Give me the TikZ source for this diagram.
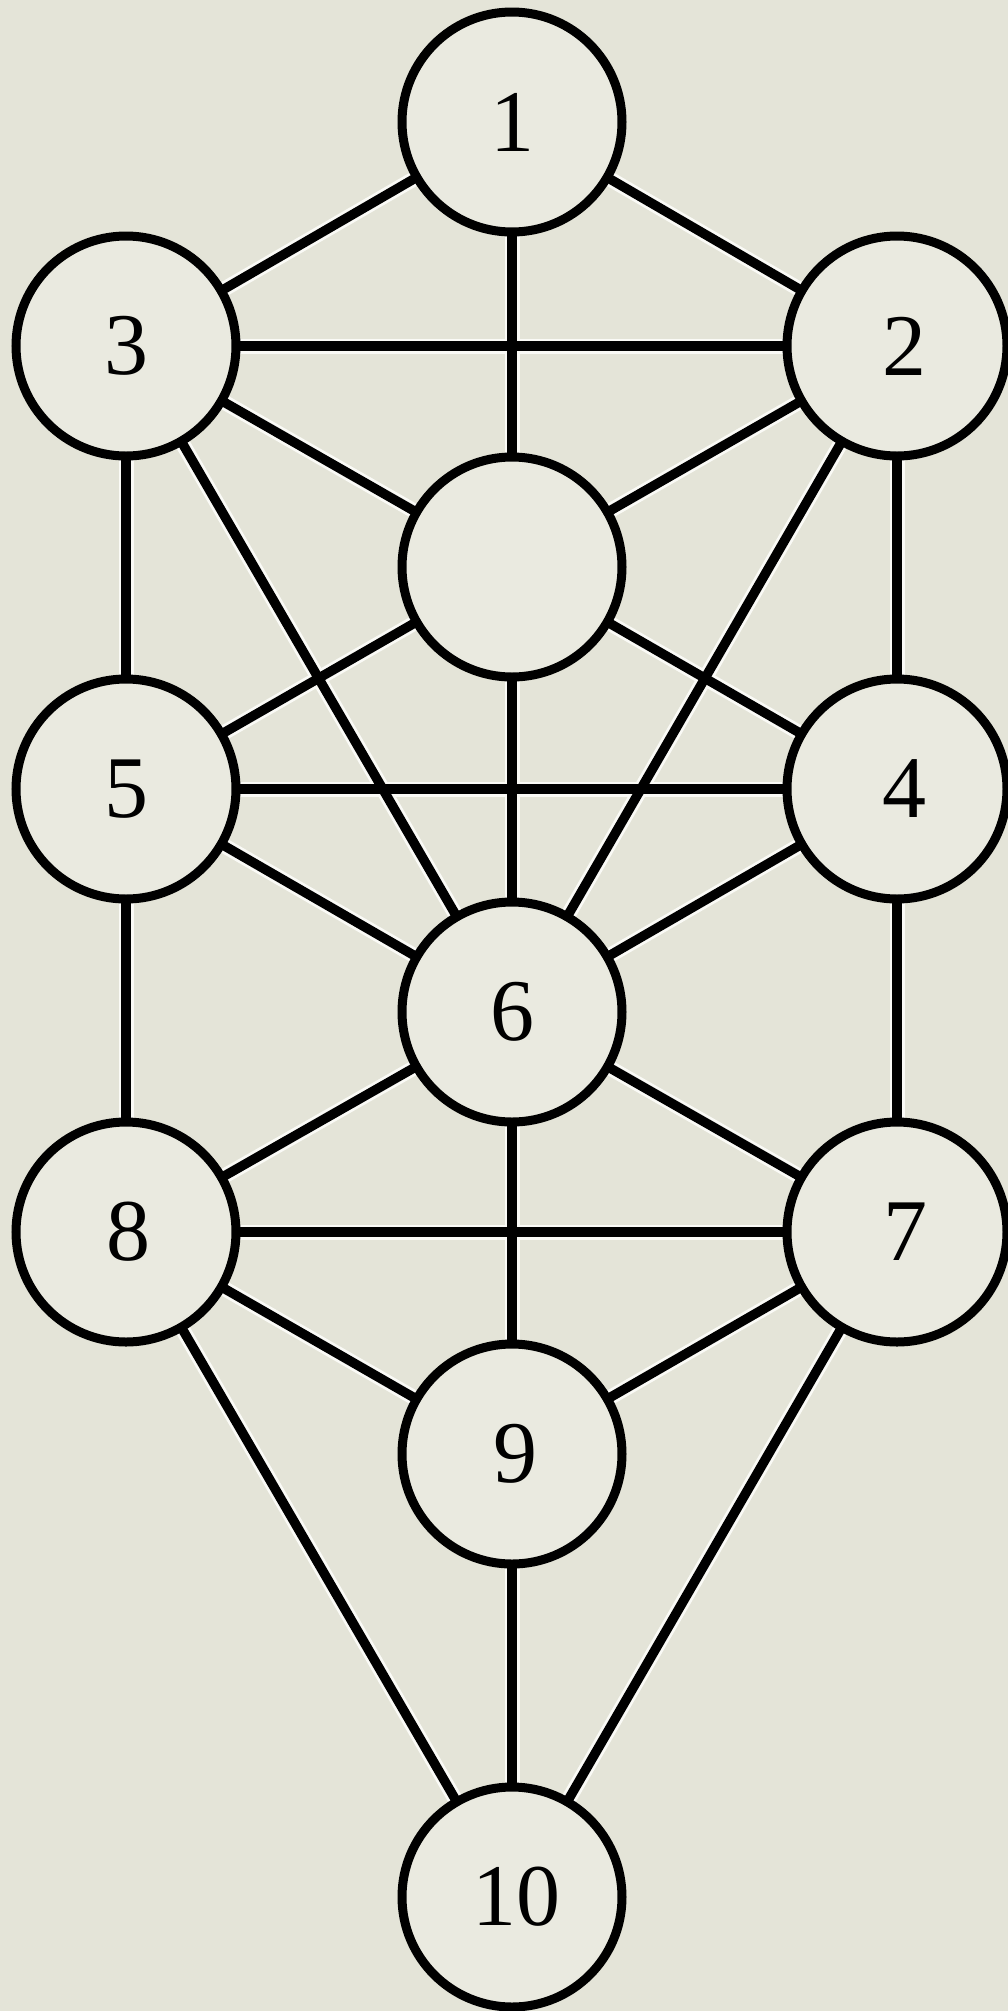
\documentclass[tikz,border=0pt]{standalone}
\usepackage{fontspec}
\setmainfont{Liberation Serif}
\usetikzlibrary{backgrounds}
\definecolor{paper}{HTML}{E4E4D8}
\definecolor{inner}{HTML}{EAEAE0}
\definecolor{halo}{HTML}{FAFAF6}
\tikzset{
  sefira/.style={circle, draw=black, line width=9pt, fill=inner, minimum size=220pt, inner sep=0pt,
    font=\fontsize{88}{88}\selectfont},
  pathhalo/.style={draw=halo, line width=15pt},
  pathline/.style={draw=black, line width=9.5pt}
}
\begin{document}
\begin{tikzpicture}[x=1pt,y=-1pt]
\begin{scope}[on background layer]
  \fill[paper] (0,0) rectangle (1008,2011);
\end{scope}
\useasboundingbox (0,0) rectangle (1008,2011);
\node[sefira] (n1) at (512,122) {1};
\node[sefira] (n3) at (126,346) {3};
\node[sefira] (n2) at (897,346) {\hspace*{14pt}2};
\node[sefira] (nD) at (512,567) {};
\node[sefira] (n5) at (126,789) {5};
\node[sefira] (n4) at (897,789) {\hspace*{14pt}4};
\node[sefira] (n6) at (512,1012) {6};
\node[sefira] (n8) at (126,1232) {\hspace*{4pt}8};
\node[sefira] (n7) at (897,1232) {\hspace*{16pt}7};
\node[sefira] (n9) at (512,1454) {\hspace*{6pt}9};
\node[sefira] (n10) at (512,1897) {\hspace*{8pt}10};
\begin{scope}[on background layer]
  \foreach \s in {pathhalo,pathline}{
    \foreach \a/\b in {n1/n3,n1/n2,n1/nD,n3/n2,n3/nD,n2/nD,n3/n5,n2/n4,n3/n6,n2/n6,
                       nD/n5,nD/n4,nD/n6,n5/n4,n5/n6,n4/n6,n5/n8,n4/n7,n6/n8,n6/n7,
                       n6/n9,n8/n7,n8/n9,n7/n9,n8/n10,n7/n10,n9/n10}{
      \path[\s] (\a.center) -- (\b.center);
    }
  }
\end{scope}
\end{tikzpicture}
\end{document}
